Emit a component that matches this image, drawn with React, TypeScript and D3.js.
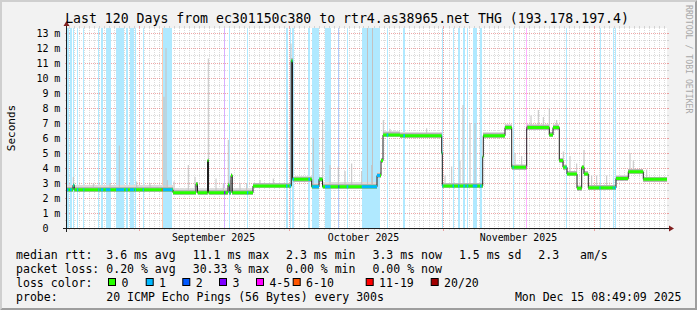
import React from "react";
import * as d3 from "d3";

// ---------------- data ----------------
const TITLE = "Last 120 Days from ec301150c380 to rtr4.as38965.net THG (193.178.197.4)";
const Y_LABEL = "Seconds";
const WATERMARK = "RRDTOOL / TOBI OETIKER";
const DATE_STAMP = "Mon Dec 15 08:49:09 2025";
const WINDOW_START = "2025-08-17T16:48:00";
const WINDOW_DAYS = 120;
const Y_MAX_MS = 13.333;
const yMajorTicks = [0, 1, 2, 3, 4, 5, 6, 7, 8, 9, 10, 11, 12, 13];
const yMinorTicks = [0.5, 1.5, 2.5, 3.5, 4.5, 5.5, 6.5, 7.5, 8.5, 9.5, 10.5, 11.5, 12.5, 13.5];

// median rtt steps: [day offset, median ms, smoke low ms, smoke high ms]
const medianSteps: [number, number, number, number][] = [
  [0.0, 2.55, 2.45, 2.85],
  [1.2, 2.85, 2.75, 3.0],
  [1.46, 2.55, 2.45, 2.85],
  [21.2, 2.35, 2.28, 2.65],
  [25.8, 2.93, 2.85, 3.05],
  [26.1, 2.35, 2.28, 2.65],
  [28.1, 4.5, 4.4, 4.6],
  [28.3, 2.35, 2.28, 2.65],
  [32.2, 2.87, 2.8, 3.0],
  [32.46, 2.35, 2.28, 2.65],
  [32.8, 3.5, 3.4, 3.6],
  [33.06, 2.35, 2.28, 2.65],
  [37.2, 2.8, 2.7, 3.0],
  [44.86, 11.15, 11.0, 11.3],
  [45.1, 3.25, 3.15, 3.45],
  [48.94, 2.75, 2.65, 3.0],
  [50.4, 3.25, 3.15, 3.4],
  [51.1, 2.75, 2.65, 3.05],
  [62.0, 3.5, 3.4, 3.7],
  [62.8, 4.5, 4.4, 4.65],
  [63.2, 6.2, 6.05, 6.45],
  [66.6, 6.15, 6.0, 6.4],
  [74.94, 5.0, 4.9, 5.1],
  [75.06, 2.8, 2.7, 3.0],
  [83.14, 4.75, 4.65, 4.85],
  [83.26, 6.15, 6.0, 6.4],
  [87.6, 6.7, 6.55, 6.9],
  [88.94, 4.05, 3.9, 4.25],
  [91.94, 6.7, 6.55, 6.95],
  [96.46, 6.2, 6.05, 6.4],
  [97.2, 6.7, 6.55, 6.95],
  [98.46, 4.5, 4.4, 4.65],
  [99.2, 4.05, 3.95, 4.25],
  [100.0, 3.6, 3.5, 3.8],
  [102.0, 2.65, 2.55, 2.85],
  [102.94, 4.05, 3.95, 4.2],
  [103.4, 3.6, 3.5, 3.8],
  [104.26, 2.68, 2.58, 2.85],
  [109.8, 3.3, 3.2, 3.5],
  [112.26, 3.75, 3.65, 3.95],
  [115.26, 3.25, 3.15, 3.4],
];

// single-ping smoke spikes: [day offset, max ms]
const smokeSpikes: [number, number][] = [
  [1.26, 3.4], [5.26, 3.0], [8.6, 3.0], [10.46, 5.5], [13.94, 3.1], [16.6, 3.0],
  [19.4, 8.75], [19.8, 12.0], [20.06, 3.2], [21.4, 3.1], [24.26, 4.2], [25.6, 3.4],
  [28.26, 11.3], [29.8, 3.3], [31.26, 3.0], [32.26, 5.87], [32.6, 3.2], [34.6, 3.0],
  [35.94, 3.0], [38.6, 3.2], [41.26, 3.3], [44.8, 12.3], [45.6, 3.4], [49.26, 6.0],
  [51.14, 7.2], [52.6, 4.2], [54.26, 4.1], [55.6, 3.8], [56.94, 4.3], [58.94, 3.8],
  [60.1, 13.5], [60.94, 4.2], [61.1, 13.5], [63.26, 7.2], [64.6, 6.6], [71.94, 6.65],
  [75.6, 3.5], [76.94, 4.1], [78.6, 4.5], [79.2, 8.2], [80.6, 7.0], [81.6, 7.0],
  [89.6, 5.0], [90.94, 4.8], [92.8, 7.5], [94.26, 7.87], [95.26, 7.4], [96.46, 8.0],
  [97.94, 7.2], [99.26, 5.1], [100.6, 4.8], [101.94, 4.3], [103.4, 5.2], [104.94, 3.5],
  [105.94, 3.5], [107.94, 3.5], [112.6, 5.0], [113.26, 4.5], [115.94, 3.9],
];

// loss classes (legend)
const lossLabels = ["0", "1", "2", "3", "4-5", "6-10", "11-19", "20/20"];
const lossColors = ["#26ff00", "#00b8ff", "#0059ff", "#7e00ff", "#ff00ff", "#ff5500", "#ff0000", "#a10000"];

// loss periods: [start day, end day, loss class index]
const lossBars: [number, number, number][] = [
  [0.0, 0.3, 1], [0.6, 0.94, 1], [1.26, 1.46, 1], [2.0, 2.26, 1], [3.26, 3.46, 1],
  [6.26, 6.46, 1], [6.74, 7.26, 1], [7.74, 8.7, 1], [9.8, 11.4, 1], [11.74, 12.14, 1],
  [12.6, 13.4, 1], [13.6, 13.8, 1], [15.14, 15.4, 1], [18.94, 19.14, 5], [19.14, 21.06, 1],
  [31.4, 31.66, 3], [32.4, 32.66, 1], [36.0, 36.26, 1], [43.8, 44.1, 1], [44.5, 44.8, 1],
  [45.06, 45.4, 1], [48.26, 48.6, 1], [49.06, 50.46, 1], [51.6, 52.7, 1], [54.26, 54.46, 2],
  [55.94, 56.26, 1], [58.94, 62.6, 1], [63.94, 64.26, 1], [67.26, 67.6, 1], [74.94, 75.26, 1],
  [77.1, 77.4, 1], [78.2, 78.5, 1], [79.26, 79.66, 1], [79.94, 80.26, 1], [81.14, 82.06, 1],
  [82.6, 82.94, 1], [89.14, 89.34, 1], [91.8, 92.06, 4], [99.7, 99.9, 1], [106.5, 106.7, 1],
  [109.14, 109.34, 1], [109.54, 109.8, 1],
];

// legend text
const legendRtt = ["median rtt:  3.6 ms avg", "  11.1 ms max", "  2.3 ms min", "  3.3 ms now", "  1.5 ms sd", "  2.3   am/s"];
const legendLoss = ["packet loss: 0.20 % avg", "  30.33 % max", "  0.00 % min", "  0.00 % now"];
const legendLossColor = "loss color:";
const legendProbe = "probe:       20 ICMP Echo Pings (56 Bytes) every 300s";

// ---------------- chart ----------------
const MONO = "'DejaVu Sans Mono', monospace";

export default function App() {
  const W = 697, H = 310;
  const X0 = 67, X1 = 667, YB = 228, YT = 28;
  const DAY = 864e5;
  const t0 = new Date(WINDOW_START);
  const t1 = new Date(+t0 + WINDOW_DAYS * DAY);
  const x = d3.scaleTime().domain([t0, t1]).range([X0, X1]);
  const y = d3.scaleLinear().domain([0, Y_MAX_MS]).range([YB, YT]);
  const xd = (d: number) => x(new Date(+t0 + d * DAY));
  const yc = (v: number) => y(Math.min(v, Y_MAX_MS));

  const steps = medianSteps.map((s, i) => ({
    d0: s[0],
    d1: i + 1 < medianSteps.length ? medianSteps[i + 1][0] : WINDOW_DAYS,
    v: s[1], lo: s[2], hi: s[3],
  }));
  const stepDays = medianSteps.map((s) => s[0]);
  const medianAt = (d: number) => medianSteps[Math.max(0, d3.bisectRight(stepDays, d) - 1)][1];

  const linePts: [number, number][] = medianSteps.map((s) => [xd(s[0]), y(s[1])]);
  linePts.push([xd(WINDOW_DAYS), y(medianSteps[medianSteps.length - 1][1])]);
  const medianPath = d3.line().curve(d3.curveStepAfter)(linePts) || "";

  const crisp = (v: number) => Math.round(v) + 0.5;
  const monthTicks = d3.timeMonth.range(t0, t1);
  const dayTicks = d3.timeDay.range(t0, t1).filter((d) => d.getDate() !== 1);
  const monthLabels = d3.timeMonth
    .range(d3.timeMonth.floor(t0), t1)
    .map((m) => ({ t: d3.timeDay.offset(m, 15), m }))
    .filter((o) => o.t >= t0 && o.t <= t1);
  const fmtMonth = d3.timeFormat("%B %Y");

  const minorColor = "rgba(143,143,143,0.32)";
  const majorColor = "rgba(222,79,79,0.5)";

  const usedClasses = Array.from(new Set(lossBars.map((b) => b[2])));
  const barFill = (k: number) => d3.interpolateRgb("#ffffff", lossColors[k])(0.31);

  const CW = 6.95; // legend char advance
  const GLUE = 3;
  const place = (items: string[], x0: number) => {
    let cx = x0;
    return items.map((t) => {
      const r = { t, x: cx };
      cx += t.length * CW + GLUE;
      return r;
    });
  };
  const rttItems = place(legendRtt, 16);
  const lossItems = place(legendLoss, 16);
  const lossBoxX = [108, 145.7, 182.3, 219, 256, 292.7, 365.7, 430.7];

  const legendFont = { fontFamily: MONO, fontSize: 11.54, fill: "#000", whiteSpace: "pre" as const };

  return (
    <svg width={W} height={H} style={{ position: "fixed", left: 0, top: 0 }} xmlns="http://www.w3.org/2000/svg">
      {/* background + 3d frame */}
      <rect x={0} y={0} width={W} height={H} fill="#f2f2f2" />
      <polygon points={`0,${H} 2,${H - 2} 2,2 ${W - 2},2 ${W},0 0,0`} fill="#cfcfcf" />
      <polygon points={`2,${H - 2} ${W - 2},${H - 2} ${W - 2},2 ${W},0 ${W},${H} 0,${H}`} fill="#9e9e9e" />

      {/* canvas */}
      <rect x={X0} y={YT} width={X1 - X0} height={YB - YT} fill="#ffffff" />

      {/* minor grid */}
      <g stroke={minorColor} strokeWidth={1} shapeRendering="crispEdges">
        {yMinorTicks.filter((v) => v < Y_MAX_MS).map((v) => (
          <g key={"ym" + v}>
            <line x1={X0 - 2} x2={X0} y1={crisp(y(v))} y2={crisp(y(v))} />
            <line x1={X1} x2={X1 + 2} y1={crisp(y(v))} y2={crisp(y(v))} />
            <line x1={X0} x2={X1} y1={crisp(y(v))} y2={crisp(y(v))} strokeDasharray="1,1" />
          </g>
        ))}
        {dayTicks.map((d) => (
          <g key={"xm" + +d}>
            <line x1={crisp(x(d))} x2={crisp(x(d))} y1={YB} y2={YB + 2} />
            <line x1={crisp(x(d))} x2={crisp(x(d))} y1={YT - 2} y2={YT} />
            <line x1={crisp(x(d))} x2={crisp(x(d))} y1={YT} y2={YB} strokeDasharray="1,1" />
          </g>
        ))}
      </g>
      {/* major grid */}
      <g stroke={majorColor} strokeWidth={1} shapeRendering="crispEdges">
        {yMajorTicks.filter((v) => v > 0).map((v) => (
          <g key={"yM" + v}>
            <line x1={X0 - 2} x2={X0} y1={crisp(y(v))} y2={crisp(y(v))} />
            <line x1={X1} x2={X1 + 2} y1={crisp(y(v))} y2={crisp(y(v))} />
            <line x1={X0} x2={X1} y1={crisp(y(v))} y2={crisp(y(v))} strokeDasharray="1,1" />
          </g>
        ))}
        {monthTicks.map((d) => (
          <g key={"xM" + +d}>
            <line x1={crisp(x(d))} x2={crisp(x(d))} y1={YB} y2={YB + 3} />
            <line x1={crisp(x(d))} x2={crisp(x(d))} y1={YT - 2} y2={YT} />
            <line x1={crisp(x(d))} x2={crisp(x(d))} y1={YT} y2={YB} strokeDasharray="1,1" />
          </g>
        ))}
      </g>

      {/* loss bars */}
      <g shapeRendering="crispEdges">
        {lossBars.map((b, i) => (
          <rect key={"lb" + i} x={xd(b[0])} y={YT} width={Math.max(1, xd(b[1]) - xd(b[0]))} height={YB - YT} fill={barFill(b[2])} />
        ))}
      </g>

      {/* smoke */}
      <g shapeRendering="crispEdges">
        {steps.map((s, i) => (
          <rect key={"so" + i} x={xd(s.d0)} width={xd(s.d1) - xd(s.d0)} y={yc(s.hi)} height={yc(s.lo) - yc(s.hi)} fill="#dcdcdc" />
        ))}
      </g>
      <g stroke="#c2c2c2" strokeWidth={1}>
        {smokeSpikes.map((p, i) => (
          <line key={"sp" + i} x1={xd(p[0])} x2={xd(p[0])} y1={yc(p[1])} y2={y(medianAt(p[0]))} />
        ))}
      </g>
      <g shapeRendering="crispEdges">
        {steps.map((s, i) => (
          <rect key={"si" + i} x={xd(s.d0)} width={xd(s.d1) - xd(s.d0)} y={y(s.v) - 2.5} height={5} fill="#b6b6b6" />
        ))}
      </g>

      {/* median */}
      <path d={medianPath} fill="none" stroke="#202020" strokeWidth={1} />
      <g>
        {steps.map((s, i) => (
          <rect key={"mg" + i} x={xd(s.d0)} width={xd(s.d1) - xd(s.d0)} y={y(s.v) - 1.5} height={3} fill={lossColors[0]} />
        ))}
      </g>
      <defs>
        {usedClasses.map((k) => (
          <clipPath id={"lossclip" + k} key={"cp" + k}>
            {lossBars.filter((b) => b[2] === k).map((b, i) => (
              <rect key={i} x={xd(b[0])} y={YT} width={Math.max(1, xd(b[1]) - xd(b[0]))} height={YB - YT} />
            ))}
          </clipPath>
        ))}
      </defs>
      {usedClasses.map((k) => (
        <g key={"mc" + k} clipPath={`url(#lossclip${k})`}>
          {steps.map((s, i) => (
            <rect key={i} x={xd(s.d0)} width={xd(s.d1) - xd(s.d0)} y={y(s.v) - 1.5} height={3} fill={lossColors[k]} />
          ))}
        </g>
      ))}

      {/* axes */}
      <g stroke="#1f1f1f" strokeWidth={1} shapeRendering="crispEdges">
        <line x1={X0 - 4} x2={X1 + 4} y1={YB + 0.5} y2={YB + 0.5} />
        <line x1={X0 - 0.5} x2={X0 - 0.5} y1={YB + 4} y2={YT - 4} />
      </g>
      <polygon points={`${X1 + 2},${YB - 2.5} ${X1 + 2},${YB + 3.5} ${X1 + 7},${YB + 0.5}`} fill="#801f1f" />
      <polygon points={`${X0 - 3.5},${YT - 2} ${X0 + 2.5},${YT - 2} ${X0 - 0.5},${YT - 7}`} fill="#801f1f" />

      {/* y labels */}
      <g fontFamily={MONO} fontSize={10} fill="#000">
        {yMajorTicks.map((v) => (
          <g key={"yl" + v}>
            <text x={48.6} y={y(v) + 3.8} textAnchor="end">{String(v)}</text>
            {v > 0 && <text x={54.3} y={y(v) + 3.8}>m</text>}
          </g>
        ))}
      </g>
      {/* x labels */}
      <g fontFamily={MONO} fontSize={9.9} fill="#000">
        {monthLabels.map((o) => (
          <text key={"xl" + +o.m} x={x(o.t)} y={240.6} textAnchor="middle">{fmtMonth(o.m)}</text>
        ))}
      </g>

      {/* title, unit, watermark */}
      <text x={W / 2 - 1.5} y={22.9} textAnchor="middle" fontFamily={MONO} fontSize={13.2} fill="#000">{TITLE}</text>
      <text transform={`translate(15,128) rotate(-90)`} textAnchor="middle" fontFamily={MONO} fontSize={11} fill="#000">{Y_LABEL}</text>
      <text transform={`translate(685.5,5) rotate(90)`} fontFamily={MONO} fontSize={8.2} fill="#a8a8a8">{WATERMARK}</text>

      {/* legend */}
      <g style={legendFont}>
        {rttItems.map((it, i) => (
          <text key={"r" + i} x={it.x} y={258.6} xmlSpace="preserve">{it.t}</text>
        ))}
        {lossItems.map((it, i) => (
          <text key={"l" + i} x={it.x} y={272.6} xmlSpace="preserve">{it.t}</text>
        ))}
        <text x={16} y={286.6}>{legendLossColor}</text>
        {lossLabels.map((lab, i) => (
          <g key={"lc" + i}>
            <rect x={lossBoxX[i] + 0.5} y={278.5} width={7} height={7} fill={lossColors[i]} stroke="#000" strokeWidth={1} />
            <text x={lossBoxX[i] + 13.4} y={286.6}>{lab}</text>
          </g>
        ))}
        <text x={16} y={300.6} xmlSpace="preserve">{legendProbe}</text>
        <text x={681.5} y={300.6} textAnchor="end">{DATE_STAMP}</text>
      </g>
    </svg>
  );
}
